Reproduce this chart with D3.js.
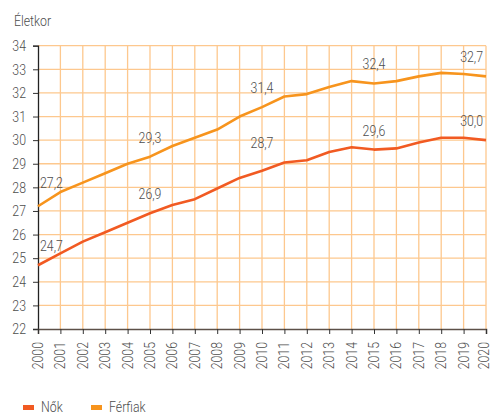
<!DOCTYPE html>
<html lang="hu">
<head>
<meta charset="UTF-8">
<script src="https://d3js.org/d3.v7.min.js"></script>
<style>
  body { margin: 0; background: #fff; }
  svg text { font-family: "Roboto", "DejaVu Sans Condensed", sans-serif; font-weight: 300; fill: #4d4d4d; }
</style>
</head>
<body>
<div id="chart"></div>
<script>
// Data
const years = d3.range(2000, 2021);
const nok = [24.7, 25.2, 25.7, 26.1, 26.5, 26.9, 27.25, 27.5, 27.95, 28.4, 28.7, 29.05, 29.15, 29.5, 29.7, 29.6, 29.65, 29.9, 30.1, 30.1, 30.0];
const ferfiak = [27.2, 27.8, 28.2, 28.6, 29.0, 29.3, 29.75, 30.1, 30.45, 31.0, 31.4, 31.85, 31.95, 32.25, 32.5, 32.4, 32.5, 32.7, 32.85, 32.8, 32.7];
const labelYears = [2000, 2005, 2010, 2015, 2020];
const yTicks = d3.range(22, 35);

const width = 492, height = 415;
const margin = { top: 45.7, right: 6, bottom: 86, left: 38 };

const svg = d3.select("#chart").append("svg")
  .attr("width", width).attr("height", height);

const x = d3.scaleLinear().domain([2000, 2020]).range([margin.left, width - margin.right]);
const y = d3.scaleLinear().domain([22, 34]).range([height - margin.bottom, margin.top]);

const gridColor = "#fdc88e";

// gridlines
svg.append("g").selectAll("line")
  .data(yTicks.slice(1))
  .join("line")
  .attr("x1", x(2000)).attr("x2", x(2020))
  .attr("y1", d => y(d)).attr("y2", d => y(d))
  .attr("stroke", gridColor).attr("stroke-width", 1.3);

svg.append("g").selectAll("line")
  .data(years.slice(1))
  .join("line")
  .attr("x1", d => x(d)).attr("x2", d => x(d))
  .attr("y1", y(34)).attr("y2", y(22))
  .attr("stroke", gridColor).attr("stroke-width", 1.3);

// left axis
const yAxis = svg.append("g")
  .attr("transform", `translate(${margin.left},0)`)
  .call(d3.axisLeft(y).tickValues(yTicks).tickSize(5).tickPadding(7).tickFormat(d3.format("d")));
yAxis.select(".domain").attr("stroke", "#222").attr("stroke-width", 1.3);
yAxis.selectAll(".tick line").attr("stroke", "#333");
yAxis.selectAll("text").style("font-size", "15px").attr("fill", "#4d4d4d");

// bottom axis
const xAxis = svg.append("g")
  .attr("transform", `translate(0,${y(22)})`)
  .call(d3.axisBottom(x).tickValues(years).tickSize(5).tickFormat(d3.format("d")));
xAxis.select(".domain").attr("stroke", "#5c5048").attr("stroke-width", 1.6);
xAxis.selectAll(".tick line").attr("stroke", "#333");
xAxis.selectAll("text")
  .style("font-size", "15px")
  .attr("fill", "#4d4d4d")
  .attr("text-anchor", "end")
  .attr("transform", "rotate(-90)")
  .attr("x", -13).attr("y", 0)
  .attr("dy", d => d === 2020 ? "2px" : "0.3em"); // last one kept inside the frame

// lines
const series = [
  { name: "Nők", values: nok, color: "#f15a22" },
  { name: "Férfiak", values: ferfiak, color: "#f7941d" }
];

const line = d3.line().x((d, i) => x(years[i])).y(d => y(d));

svg.append("g").selectAll("path")
  .data(series)
  .join("path")
  .attr("d", d => line(d.values))
  .attr("fill", "none")
  .attr("stroke", d => d.color)
  .attr("stroke-width", 2.6)
  .attr("stroke-linejoin", "round");

// value labels
const fmt = v => d3.format(".1f")(v).replace(".", ",");
const labels = [];
series.forEach(s => labelYears.forEach(yr => labels.push({ yr, v: s.values[yr - 2000] })));
svg.append("g").selectAll("text")
  .data(labels)
  .join("text")
  .attr("x", d => d.yr === 2000 ? x(d.yr) + 2 : d.yr === 2020 ? x(d.yr) - 3 : x(d.yr))
  .attr("y", d => y(d.v) - (d.yr === 2010 && d.v < 30 ? 23 : d.yr === 2000 && d.v > 27 ? 18 : 14))
  .attr("text-anchor", d => d.yr === 2000 ? "start" : d.yr === 2020 ? "end" : "middle")
  .style("font-size", "15px")
  .text(d => fmt(d.v));

// y title
svg.append("text")
  .attr("x", 14).attr("y", 26)
  .style("font-size", "15px")
  .text("Életkor");

// legend
const legend = svg.append("g").selectAll("g")
  .data(series)
  .join("g")
  .attr("transform", (d, i) => `translate(${23 + i * 68},406)`);
legend.append("rect")
  .attr("x", 0).attr("y", -1).attr("width", 11).attr("height", 5)
  .attr("fill", d => d.color);
legend.append("text")
  .attr("x", 18).attr("y", 6)
  .style("font-size", "15px")
  .text(d => d.name);

// the original uses a narrow light face: squeeze glyphs horizontally
svg.selectAll("text").each(function () {
  const w = this.getComputedTextLength();
  d3.select(this).attr("textLength", w * 0.82).attr("lengthAdjust", "spacingAndGlyphs");
});
</script>
</body>
</html>
